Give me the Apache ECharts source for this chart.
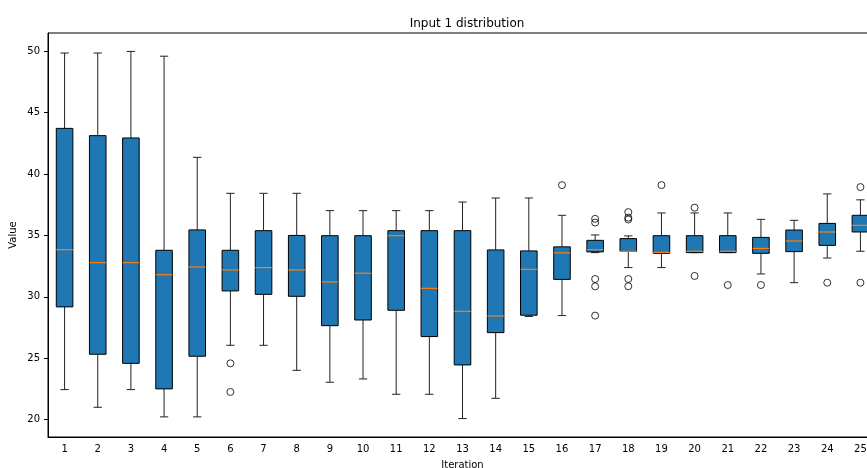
<!DOCTYPE html>
<html>
<head>
<meta charset="utf-8">
<script src="https://cdn.jsdelivr.net/npm/echarts@6/dist/echarts.min.js"></script>
<style>
html,body{margin:0;padding:0;background:#fff;}
#chart{width:867px;height:468px;}
</style>
</head>
<body>
<div id="chart"></div>
<script>
const categories = ['1','2','3','4','5','6','7','8','9','10','11','12','13','14','15','16','17','18','19','20','21','22','23','24','25'];
const lowWhisker  = [22.44, 21.0, 22.44, 20.22, 20.22, 26.05, 26.05, 24.01, 23.04, 23.31, 22.06, 22.06, 20.08, 21.73, 28.4, 28.47, 33.6, 32.38, 32.38, 33.6, 33.6, 31.86, 31.15, 33.16, 33.71];
const q1          = [29.18, 25.32, 24.58, 22.5, 25.16, 30.48, 30.2, 30.04, 27.65, 28.11, 28.9, 26.76, 24.45, 27.08, 28.5, 31.42, 33.66, 33.7, 33.54, 33.6, 33.6, 33.54, 33.68, 34.19, 35.28];
const median      = [33.84, 32.78, 32.78, 31.8, 32.43, 32.19, 32.38, 32.19, 31.21, 31.92, 34.98, 30.69, 28.82, 28.44, 32.24, 33.58, 33.84, 33.71, 33.62, 33.71, 33.71, 33.94, 34.55, 35.28, 35.82];
const q3          = [43.72, 43.13, 42.94, 33.79, 35.45, 33.79, 35.39, 35.0, 34.98, 34.98, 35.39, 35.39, 35.39, 33.82, 33.74, 34.07, 34.6, 34.74, 34.98, 34.98, 34.98, 34.84, 35.44, 35.98, 36.64];
const highWhisker = [49.86, 49.86, 49.99, 49.6, 41.36, 38.43, 38.43, 38.43, 37.02, 37.02, 37.02, 37.02, 37.72, 38.05, 38.05, 36.64, 35.04, 34.96, 36.83, 36.83, 36.83, 36.31, 36.23, 38.38, 37.9];
// outliers: [category index (0-based), value]
const outliers = [
  [5, 24.58], [5, 22.25],
  [15, 39.1],
  [16, 36.35], [16, 36.05], [16, 31.45], [16, 30.85], [16, 28.47],
  [17, 36.9], [17, 36.45], [17, 36.3], [17, 31.45], [17, 30.86],
  [18, 39.1],
  [19, 37.26], [19, 31.7],
  [20, 30.96],
  [21, 30.96],
  [23, 31.15],
  [24, 38.94], [24, 31.15]
];
const yTicks = [20, 25, 30, 35, 40, 45, 50];
const yMin = 18.58, yMax = 51.49;

const boxData = categories.map((c, i) => [i, lowWhisker[i], q1[i], median[i], q3[i], highWhisker[i]]);

const chart = echarts.init(document.getElementById('chart'), null, {renderer: 'canvas'});
const FONT = 'DejaVu Sans';

function renderBox(params, api) {
  const x = api.value(0);
  const pLow = api.coord([x, api.value(1)]);
  const pQ1 = api.coord([x, api.value(2)]);
  const pMed = api.coord([x, api.value(3)]);
  const pQ3 = api.coord([x, api.value(4)]);
  const pHigh = api.coord([x, api.value(5)]);
  const band = api.size([1, 0])[0];
  const bw = band * 0.5;
  const cw = bw * 0.5;
  const cx = pQ1[0];
  const line = {stroke: '#222', lineWidth: 1};
  return {
    type: 'group',
    children: [
      {type: 'line', shape: {x1: cx, y1: pQ1[1], x2: cx, y2: pLow[1]}, style: line},
      {type: 'line', shape: {x1: cx, y1: pQ3[1], x2: cx, y2: pHigh[1]}, style: line},
      {type: 'line', shape: {x1: cx - cw / 2, y1: pLow[1], x2: cx + cw / 2, y2: pLow[1]}, style: line},
      {type: 'line', shape: {x1: cx - cw / 2, y1: pHigh[1], x2: cx + cw / 2, y2: pHigh[1]}, style: line},
      {type: 'rect', shape: {x: cx - bw / 2, y: pQ3[1], width: bw, height: pQ1[1] - pQ3[1]},
        style: {fill: '#1f77b4', stroke: '#000', lineWidth: 1}},
      {type: 'line', shape: {x1: cx - bw / 2, y1: pMed[1], x2: cx + bw / 2, y2: pMed[1]},
        style: {stroke: '#ff7f0e', lineWidth: 1.2}}
    ]
  };
}

chart.setOption({
  animation: false,
  backgroundColor: '#fff',
  title: {
    text: 'Input 1 distribution',
    left: 462, top: 13, textAlign: 'center',
    textStyle: {fontFamily: FONT, fontSize: 12, fontWeight: 'normal', color: '#000'}
  },
  grid: {left: 48, top: 33, width: 829, height: 404, outerBoundsMode: 'none', containLabel: false,
    show: true, borderColor: '#000', borderWidth: 1, backgroundColor: 'transparent'},
  xAxis: {
    type: 'category',
    data: categories,
    boundaryGap: true,
    name: 'Iteration',
    nameLocation: 'middle',
    nameGap: 23,
    nameMoveOverlap: false,
    nameTextStyle: {fontFamily: FONT, fontSize: 10, color: '#000'},
    axisLine: {lineStyle: {color: '#000', width: 1}},
    axisTick: {alignWithLabel: true, length: 4, lineStyle: {color: '#000'}},
    axisLabel: {fontFamily: FONT, fontSize: 10, color: '#000', margin: 7, interval: 0},
    splitLine: {show: false}
  },
  yAxis: {
    type: 'value',
    min: yMin, max: yMax,
    name: 'Value',
    nameLocation: 'middle',
    nameGap: 30,
    nameMoveOverlap: false,
    nameTextStyle: {fontFamily: FONT, fontSize: 10, color: '#000'},
    axisLine: {show: true, lineStyle: {color: '#000', width: 1}},
    axisTick: {show: true, length: 4, lineStyle: {color: '#000'}, customValues: yTicks},
    axisLabel: {fontFamily: FONT, fontSize: 10, color: '#000', margin: 8, customValues: yTicks},
    splitLine: {show: false}
  },
  series: [
    {
      type: 'custom',
      renderItem: renderBox,
      encode: {x: 0, y: [1, 2, 3, 4, 5]},
      data: boxData,
      z: 2
    },
    {
      type: 'scatter',
      data: outliers,
      symbol: 'circle',
      symbolSize: 7,
      itemStyle: {color: 'transparent', borderColor: '#000', borderWidth: 1},
      z: 3
    }
  ]
});
</script>
</body>
</html>
